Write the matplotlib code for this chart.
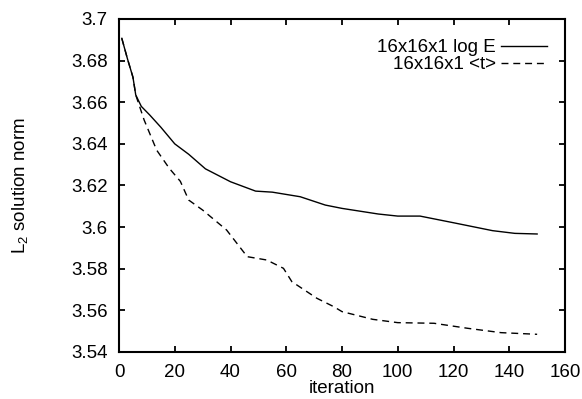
import numpy as np
import matplotlib.pyplot as plt

plt.rcParams['font.family'] = ['Liberation Sans', 'DejaVu Sans']
plt.rcParams['mathtext.default'] = 'regular'

# log E kurve
it_loge = [1, 3, 5, 6, 8, 11, 15, 20, 25, 31, 40, 49, 55, 65, 74, 80, 93, 100,
           108, 120, 134, 142, 150]
norm_loge = [3.6907, 3.681, 3.672, 3.6635, 3.658, 3.6539, 3.648, 3.640, 3.635,
             3.628, 3.6218, 3.6173, 3.6168, 3.6146, 3.6106, 3.609, 3.6063,
             3.6053, 3.6053, 3.6021, 3.5983, 3.597, 3.5967]

# <t> kurve
it_t = [1, 3, 5, 6, 9, 13.5, 18, 22, 25, 30, 38.6, 46, 53, 59, 62, 71, 77, 80,
        91, 100, 113, 125, 137, 150]
norm_t = [3.6907, 3.681, 3.672, 3.6635, 3.6515, 3.637, 3.6283, 3.622, 3.613,
          3.6082, 3.5986, 3.5858, 3.5842, 3.5802, 3.5738, 3.5658, 3.5618,
          3.5594, 3.5557, 3.5541, 3.5538, 3.5514, 3.5493, 3.5485]

xticks = [0, 20, 40, 60, 80, 100, 120, 140, 160]
yticks = [3.54, 3.56, 3.58, 3.6, 3.62, 3.64, 3.66, 3.68, 3.7]
ytick_labels = ['3.54', '3.56', '3.58', '3.6', '3.62', '3.64', '3.66', '3.68', '3.7']

fs = 13.5

fig = plt.figure(figsize=(5.82, 3.99), dpi=100)
ax = fig.add_axes([0.2045, 0.1178, 0.7663, 0.8346])

ax.plot(it_loge, norm_loge, color='black', lw=1.0, label='16x16x1 log E')
ax.plot(it_t, norm_t, color='black', lw=1.0, linestyle=(0, (5, 3.5)),
        label='16x16x1 <t>')

ax.set_xlim(0, 160)
ax.set_ylim(3.54, 3.7)
ax.set_xticks(xticks)
ax.set_yticks(yticks)
ax.set_yticklabels(ytick_labels)

ax.tick_params(direction='in', top=True, right=True, length=4, width=1.3,
               labelsize=fs)
ax.tick_params(axis='y', pad=8)
ax.tick_params(axis='x', pad=9)
for s in ax.spines.values():
    s.set_linewidth(1.5)

ax.set_xlabel('iteration', fontsize=fs, labelpad=-1)
ax.set_ylabel('L$_2$ solution norm', fontsize=fs, labelpad=30)

ax.legend(loc='upper right', bbox_to_anchor=(0.997, 0.99), frameon=False,
          markerfirst=False, fontsize=fs, handlelength=2.45,
          handletextpad=0.25, labelspacing=0.0)

fig.savefig('out.png', dpi=100)
